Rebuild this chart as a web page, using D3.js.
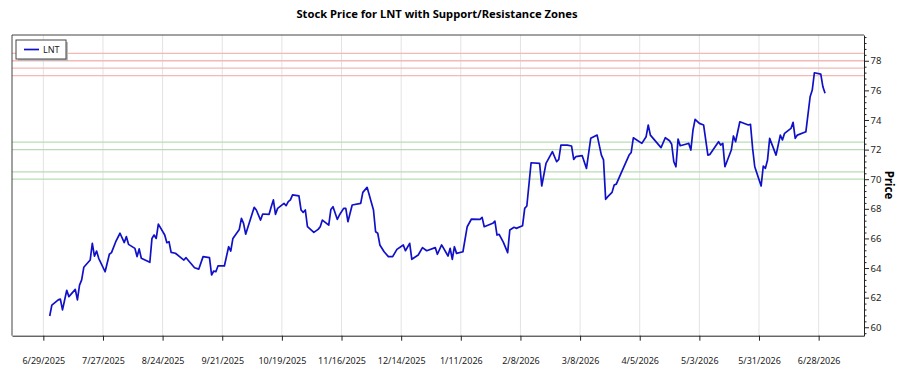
<!DOCTYPE html>
<html>
<head>
<meta charset="utf-8">
<script src="https://cdn.jsdelivr.net/npm/d3@7"></script>
<style>
  html, body { margin: 0; padding: 0; background: #fff; }
  svg { display: block; font-family: "Noto Sans", "Open Sans", sans-serif; }
</style>
</head>
<body>
<svg id="chart" width="900" height="375"></svg>
<script>
const ticker = "LNT";
const chartTitle = "Stock Price for LNT with Support/Resistance Zones";
const yLabel = "Price";

const dates = [
"2025-07-02","2025-07-03","2025-07-06","2025-07-07","2025-07-08","2025-07-10","2025-07-11","2025-07-14","2025-07-15","2025-07-16",
"2025-07-17","2025-07-18","2025-07-21","2025-07-22","2025-07-23","2025-07-24","2025-07-25","2025-07-28","2025-07-30","2025-07-31",
"2025-08-02","2025-08-04","2025-08-06","2025-08-07","2025-08-08","2025-08-11","2025-08-12","2025-08-13","2025-08-14","2025-08-18",
"2025-08-19","2025-08-20","2025-08-21","2025-08-22","2025-08-25","2025-08-26","2025-08-27","2025-08-28","2025-08-30","2025-09-03",
"2025-09-04","2025-09-08","2025-09-10","2025-09-12","2025-09-15","2025-09-16","2025-09-17","2025-09-18","2025-09-19","2025-09-22",
"2025-09-24","2025-09-25","2025-09-26","2025-09-29","2025-09-30","2025-10-01","2025-10-02","2025-10-06","2025-10-07","2025-10-09",
"2025-10-10","2025-10-13","2025-10-14","2025-10-15","2025-10-16","2025-10-17","2025-10-20","2025-10-21","2025-10-22","2025-10-23",
"2025-10-24","2025-10-27","2025-10-28","2025-10-29","2025-10-30","2025-10-31","2025-11-03","2025-11-05","2025-11-06","2025-11-07",
"2025-11-10","2025-11-11","2025-11-12","2025-11-14","2025-11-15","2025-11-17","2025-11-18","2025-11-19","2025-11-21","2025-11-25",
"2025-11-26","2025-11-28","2025-12-01","2025-12-02","2025-12-03","2025-12-04","2025-12-06","2025-12-08","2025-12-10","2025-12-12",
"2025-12-15","2025-12-16","2025-12-18","2025-12-19","2025-12-22","2025-12-24","2025-12-26","2025-12-30","2025-12-31","2026-01-02",
"2026-01-05","2026-01-06","2026-01-07","2026-01-08","2026-01-09","2026-01-12","2026-01-14","2026-01-16","2026-01-20","2026-01-21",
"2026-01-22","2026-01-26","2026-01-27","2026-01-28","2026-01-29","2026-01-31","2026-02-02","2026-02-03","2026-02-05","2026-02-06",
"2026-02-09","2026-02-10","2026-02-11","2026-02-13","2026-02-17","2026-02-18","2026-02-20","2026-02-23","2026-02-25","2026-02-26",
"2026-02-27","2026-03-02","2026-03-04","2026-03-05","2026-03-06","2026-03-09","2026-03-11","2026-03-13","2026-03-16","2026-03-18",
"2026-03-19","2026-03-20","2026-03-21","2026-03-23","2026-03-24","2026-03-25","2026-03-27","2026-03-31","2026-04-01","2026-04-02",
"2026-04-06","2026-04-08","2026-04-09","2026-04-10","2026-04-15","2026-04-17","2026-04-19","2026-04-20","2026-04-21","2026-04-22",
"2026-04-23","2026-04-24","2026-04-27","2026-04-28","2026-04-29","2026-04-30","2026-05-01","2026-05-03","2026-05-05","2026-05-07",
"2026-05-08","2026-05-12","2026-05-13","2026-05-14","2026-05-15","2026-05-18","2026-05-19","2026-05-20","2026-05-22","2026-05-26",
"2026-05-27","2026-05-28","2026-05-29","2026-06-01","2026-06-02","2026-06-03","2026-06-04","2026-06-05","2026-06-08","2026-06-10",
"2026-06-11","2026-06-12","2026-06-15","2026-06-16","2026-06-17","2026-06-18","2026-06-22","2026-06-24","2026-06-25","2026-06-26",
"2026-06-29","2026-06-30","2026-07-01"
];

const prices = [
60.76,61.5,61.85,61.9,61.17,62.5,62.07,62.56,61.85,62.85,
63.2,64.05,64.54,65.67,64.8,65.15,64.66,63.75,64.93,65.04,
65.78,66.35,65.72,66.12,65.6,65.33,64.77,65.29,64.66,64.39,
66.0,66.23,66.0,66.97,66.23,65.71,65.78,65.06,65.0,64.54,
64.7,64.02,63.93,64.77,64.7,63.53,63.8,63.75,64.14,64.14,
65.44,65.15,66.0,66.61,67.36,67.02,66.29,68.1,67.92,67.24,
67.65,67.63,68.14,68.6,67.63,68.03,68.37,68.21,68.48,68.6,
68.94,68.87,67.92,67.76,67.92,66.79,66.41,66.61,66.79,67.24,
66.9,67.96,68.14,67.29,67.58,68.03,68.03,67.13,68.26,68.37,
69.11,69.45,67.92,66.45,66.35,65.56,65.1,64.77,64.77,65.26,
65.56,65.17,65.67,64.59,64.88,65.38,65.17,65.38,64.93,65.56,
64.81,65.33,64.59,65.44,64.99,65.1,66.79,67.31,67.29,67.42,
66.79,67.02,67.17,66.23,66.27,65.73,65.04,66.57,66.75,66.68,
66.86,68.03,68.19,71.11,71.07,69.54,71.07,71.86,71.18,71.34,
72.3,72.3,72.24,71.34,71.52,71.59,70.73,72.76,72.98,71.63,
71.3,68.64,68.82,69.11,69.61,69.67,70.33,71.63,71.81,72.8,
72.42,72.87,73.66,72.98,72.13,72.8,72.6,72.36,71.18,70.84,
72.71,72.26,72.38,72.42,71.97,73.32,74.04,73.77,73.66,71.63,
71.68,72.53,72.31,72.42,70.84,71.97,72.92,72.53,73.88,73.66,
73.71,72.08,70.84,69.54,70.89,70.73,71.3,72.76,71.63,72.98,
72.65,73.1,73.43,73.84,72.76,72.98,73.2,75.57,76.02,77.19,
77.1,76.24,75.8
];

const resistanceLevels = [77, 77.5, 78, 78.5];
const supportLevels = [70, 70.5, 72, 72.5];

const xTickLabels = ["6/29/2025","7/27/2025","8/24/2025","9/21/2025","10/19/2025","11/16/2025","12/14/2025",
  "1/11/2026","2/8/2026","3/8/2026","4/5/2026","5/3/2026","5/31/2026","6/28/2026"];
const yTickValues = [60, 62, 64, 66, 68, 70, 72, 74, 76, 78];

const xDomain = ["2025-06-14T07:00", "2026-07-19T07:00"];
const yDomain = [59.43, 79.74];

const svg = d3.select("#chart");
const plot = { left: 12, right: 864, top: 35, bottom: 335.7 };

const parseDay = d3.utcParse("%Y-%m-%d");
const parseDT = d3.utcParse("%Y-%m-%dT%H:%M");
const parseTick = d3.utcParse("%m/%d/%Y");
const fmtTick = d3.utcFormat("%-m/%-d/%Y");

const data = dates.map((d, i) => ({ date: parseDay(d), value: prices[i] }));

const x = d3.scaleUtc().domain(xDomain.map(parseDT)).range([plot.left, plot.right]);
const y = d3.scaleLinear().domain(yDomain).range([plot.bottom, plot.top]);

const xTicks = xTickLabels.map(parseTick);

// title
svg.append("text")
  .attr("x", 437).attr("y", 18)
  .attr("text-anchor", "middle")
  .style("font-size", "11.2px").style("font-weight", "bold").style("fill", "#000")
  .text(chartTitle);

// vertical grid
svg.append("g").selectAll("line").data(xTicks).join("line")
  .attr("x1", d => x(d)).attr("x2", d => x(d))
  .attr("y1", plot.top).attr("y2", plot.bottom)
  .attr("stroke", "#e3e3e3").attr("stroke-width", 1);

// support / resistance lines
svg.append("g").selectAll("line").data(resistanceLevels).join("line")
  .attr("x1", plot.left).attr("x2", plot.right)
  .attr("y1", d => y(d)).attr("y2", d => y(d))
  .attr("stroke", "#f4b8b8").attr("stroke-width", 1.3);
svg.append("g").selectAll("line").data(supportLevels).join("line")
  .attr("x1", plot.left).attr("x2", plot.right)
  .attr("y1", d => y(d)).attr("y2", d => y(d))
  .attr("stroke", "#b9dcb5").attr("stroke-width", 1.3);

// price line
const line = d3.line().x(d => x(d.date)).y(d => y(d.value));
svg.append("path").datum(data)
  .attr("d", line)
  .attr("fill", "none")
  .attr("stroke", "#1010c8")
  .attr("stroke-width", 1.7)
  .attr("stroke-linejoin", "round");

// frame: left and top
svg.append("line").attr("x1", plot.left).attr("x2", plot.left).attr("y1", plot.top).attr("y2", plot.bottom)
  .attr("stroke", "#444").attr("stroke-width", 1);
svg.append("line").attr("x1", plot.left).attr("x2", plot.right).attr("y1", plot.top).attr("y2", plot.top)
  .attr("stroke", "#444").attr("stroke-width", 1);

// bottom axis
const xAxis = d3.axisBottom(x).tickValues(xTicks).tickFormat(fmtTick).tickSize(5).tickSizeOuter(0).tickPadding(17);
const gx = svg.append("g").attr("transform", `translate(0,${plot.bottom})`).call(xAxis);
gx.select(".domain").attr("stroke", "#222");
gx.selectAll(".tick line").attr("stroke", "#222");
gx.selectAll(".tick text").style("font-size", "9px").style("fill", "#222")
  .style("font-family", "'Noto Sans', sans-serif");

// right axis with minor ticks
const minorTicks = d3.range(59.6, 79.7, 0.4).filter(v => Math.abs(v / 2 - Math.round(v / 2)) > 0.01);
const gyMinor = svg.append("g").attr("transform", `translate(${plot.right},0)`)
  .call(d3.axisRight(y).tickValues(minorTicks).tickSize(2.5).tickFormat(""));
gyMinor.select(".domain").remove();
gyMinor.selectAll(".tick line").attr("stroke", "#222");

const yAxis = d3.axisRight(y).tickValues(yTickValues).tickSize(5).tickSizeOuter(0).tickPadding(1.5);
const gy = svg.append("g").attr("transform", `translate(${plot.right},0)`).call(yAxis);
gy.select(".domain").attr("stroke", "#222");
gy.selectAll(".tick line").attr("stroke", "#222");
gy.selectAll(".tick text").style("font-size", "9.5px").style("fill", "#222")
  .style("font-family", "'Noto Sans', sans-serif");

// y label
svg.append("text")
  .attr("transform", `translate(885,185) rotate(90)`)
  .attr("text-anchor", "middle")
  .style("font-size", "11.5px").style("font-weight", "bold").style("fill", "#000")
  .text(yLabel);

// legend
const lg = svg.append("g");
lg.append("rect").attr("x", 18).attr("y", 42).attr("width", 50).attr("height", 19).attr("fill", "#bbb");
lg.append("rect").attr("x", 16).attr("y", 40).attr("width", 50).attr("height", 19)
  .attr("fill", "#fff").attr("stroke", "#444").attr("stroke-width", 1);
lg.append("line").attr("x1", 24).attr("x2", 39).attr("y1", 49.5).attr("y2", 49.5)
  .attr("stroke", "#1010c8").attr("stroke-width", 1.7);
lg.append("text").attr("x", 43).attr("y", 52.5)
  .style("font-size", "9px").style("fill", "#222").text(ticker);
</script>
</body>
</html>
